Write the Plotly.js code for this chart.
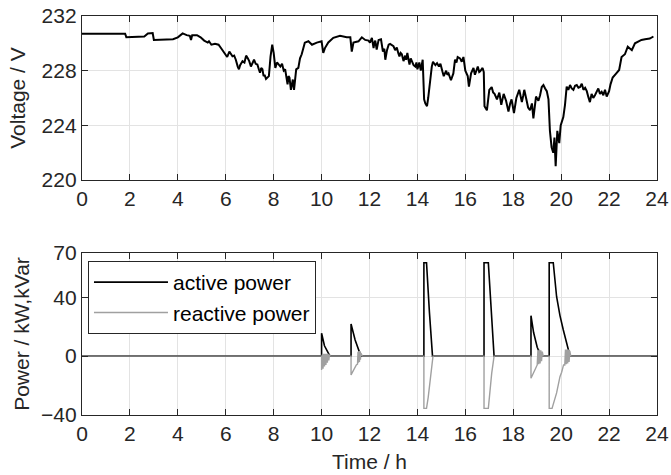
<!DOCTYPE html>
<html>
<head>
<meta charset="utf-8">
<script src="https://cdn.plot.ly/plotly-3.0.1.min.js"></script>
<style>html,body{margin:0;padding:0;background:#fff;}#chart{width:671px;height:475px;}</style>
</head>
<body>
<div id="chart"></div>
<script>
// Voltage trace (top panel)
var voltageHours = [0,1.0,1.8,1.85,2.2,2.6,2.75,2.95,3.0,3.5,3.8,4.0,4.2,4.37,4.5,4.55,4.6,4.8,4.95,5.1,5.25,5.3,5.4,5.55,5.7,5.8,5.95,6.06,6.15,6.22,6.28,6.35,6.42,6.5,6.55,6.6,6.7,6.78,6.85,6.92,6.98,7.05,7.12,7.18,7.25,7.32,7.38,7.43,7.48,7.53,7.58,7.62,7.68,7.73,7.8,7.87,7.94,8.0,8.07,8.14,8.2,8.28,8.35,8.42,8.48,8.53,8.58,8.62,8.66,8.72,8.76,8.8,8.85,8.9,8.94,9.03,9.1,9.17,9.3,9.45,9.6,9.8,10.0,10.07,10.14,10.28,10.49,10.77,11.05,11.2,11.26,11.33,11.54,11.68,11.82,11.96,12.02,12.1,12.17,12.2,12.24,12.3,12.34,12.38,12.48,12.56,12.62,12.66,12.73,12.8,12.86,13.0,13.07,13.14,13.2,13.25,13.3,13.35,13.42,13.49,13.53,13.58,13.63,13.67,13.72,13.77,13.84,13.91,13.96,14.0,14.04,14.08,14.14,14.18,14.22,14.28,14.33,14.4,14.45,14.6,14.65,14.75,14.82,14.9,14.96,15.05,15.1,15.2,15.25,15.3,15.4,15.5,15.57,15.63,15.68,15.78,15.85,15.92,16.0,16.1,16.15,16.24,16.34,16.4,16.46,16.52,16.58,16.62,16.72,16.77,16.8,16.9,17.0,17.1,17.16,17.22,17.32,17.42,17.5,17.6,17.7,17.8,17.87,17.93,18.03,18.13,18.25,18.36,18.42,18.46,18.56,18.62,18.7,18.78,18.84,18.95,19.05,19.12,19.19,19.26,19.33,19.4,19.47,19.53,19.6,19.67,19.72,19.77,19.84,19.92,19.98,20.09,20.16,20.23,20.3,20.37,20.44,20.51,20.58,20.65,20.72,20.79,20.86,20.93,21.0,21.07,21.13,21.2,21.27,21.34,21.41,21.48,21.55,21.62,21.69,21.76,21.83,21.9,22.0,22.06,22.15,22.3,22.42,22.52,22.66,22.78,22.87,22.95,23.08,23.2,23.35,23.5,23.7,23.85,24.0];
var voltageValues = [230.7,230.72,230.7,230.45,230.45,230.5,230.72,230.75,230.25,230.25,230.3,230.44,230.73,230.6,230.55,230.24,230.6,230.6,230.44,230.2,230.06,230.15,229.9,229.96,229.9,229.66,229.3,229.0,229.4,229.2,229.05,229.1,228.8,228.3,228.1,228.4,228.7,228.6,229.1,228.9,228.7,228.3,228.6,228.8,228.5,228.45,228.1,227.85,228.2,228.1,227.6,227.7,227.4,227.5,227.6,229.05,229.9,229.3,228.2,228.6,228.5,228.3,228.5,228.0,228.1,227.6,227.0,227.6,227.5,226.6,227.2,227.35,226.6,227.4,228.1,228.2,228.9,229.2,230.05,230.15,229.9,230.05,230.15,229.3,229.65,230.06,230.4,230.55,230.44,230.44,229.4,230.05,230.15,230.44,230.25,230.2,230.05,230.4,229.66,230.0,230.2,229.55,230.0,230.25,230.3,229.4,229.6,228.8,229.5,229.9,229.96,229.8,229.5,229.7,229.3,229.05,229.3,229.2,228.7,229.1,228.8,229.3,228.8,228.45,228.9,228.7,228.4,228.3,228.6,228.1,228.4,228.6,228.0,228.3,228.8,225.9,225.6,225.4,226.0,228.3,228.65,228.4,228.55,228.3,228.5,227.9,227.6,228.0,227.7,227.8,227.3,227.8,228.8,228.6,229.0,228.9,228.65,229.0,228.0,227.6,226.83,227.8,228.2,227.7,228.0,228.3,227.9,227.95,228.2,227.9,225.4,225.1,226.6,226.8,226.4,226.3,225.9,226.4,225.5,226.3,225.8,225.0,225.6,225.9,224.9,226.0,226.6,225.7,226.2,226.6,225.8,225.3,225.1,225.6,224.5,226.1,225.8,226.2,226.8,226.95,226.7,226.5,225.9,223.6,222.4,222.0,223.1,221.0,223.6,222.7,224.0,224.6,225.5,226.83,226.6,226.95,226.7,226.6,226.9,226.95,226.75,226.8,227.05,226.6,226.75,226.5,226.1,225.7,226.3,226.0,226.2,226.5,226.7,226.3,226.45,226.2,226.6,226.1,226.5,227.0,227.5,227.8,228.05,229.0,229.2,229.75,229.6,229.5,230.0,230.1,230.25,230.3,230.35,230.5];

// Power traces (bottom panel)
var activeHours = [0,10.0,10.0,10.12,10.35,11.23,11.23,11.4,11.64,14.27,14.27,14.38,14.5,14.63,16.78,16.78,16.96,17.07,17.2,18.74,18.74,18.85,19.0,19.16,19.5,19.5,19.67,19.81,19.95,20.09,20.2,20.3,20.37,24];
var activePower = [0,0,15.5,7,0,0,21.8,11,0,0,63.4,63.4,30,0,0,63.4,63.4,32.6,0,0,27.4,16,6,0,0,63.4,63.4,40.3,27.5,17.7,10,5,0,0];
var reactiveHours = [0,10.0,10.0,10.03,10.06,10.09,10.12,10.15,10.18,10.21,10.24,10.27,10.3,10.33,10.36,11.23,11.23,11.35,11.45,11.5,11.52,11.54,11.56,11.58,11.6,11.62,11.64,11.7,14.27,14.27,14.38,14.45,14.55,14.65,16.78,16.78,16.96,17.03,17.1,17.2,18.74,18.74,18.85,18.95,19.0,19.03,19.06,19.09,19.12,19.15,19.18,19.21,19.25,19.5,19.5,19.62,19.81,19.95,20.02,20.1,20.15,20.18,20.21,20.24,20.27,20.3,20.33,20.36,20.4,24];
var reactivePower = [0,0,-9.5,1,-8.5,1.5,-7,1.5,-6,1.5,-4.5,1.5,-3,1,0,0,-12.8,-9,-6,-5.5,3,-4.5,3.5,-4,3.5,-2.5,2,0,0,-35.5,-35.5,-28,-14,0,0,-35.5,-35.5,-23,-11.7,0,0,-15,-11,-7,-6,4,-5.5,4.5,-5,4,-3.5,3,0,0,-35.5,-35.5,-25,-14,-11,-6,-6,4.5,-5.5,4.5,-5,4.5,-4,3.5,0,0];

var axisColor = '#262626';
var gridColor = '#e3e3e3';
var tickFont = {family: 'Liberation Sans, Arial, sans-serif', size: 21, color: axisColor};

function xAxis(anchor, title) {
  var a = {
    domain: [0, 1], anchor: anchor, range: [0, 24], dtick: 2, tick0: 0,
    ticks: 'inside', ticklen: 6, tickcolor: axisColor, tickwidth: 1,
    showline: true, linecolor: axisColor, linewidth: 1.2, mirror: 'ticks',
    showgrid: true, gridcolor: gridColor, gridwidth: 1, zeroline: false,
    tickfont: tickFont, automargin: false
  };
  if (title) a.title = {text: title, font: tickFont, standoff: 9};
  return a;
}

var traces = [
  {x: voltageHours, y: voltageValues, xaxis: 'x2', yaxis: 'y2', type: 'scatter', mode: 'lines',
   line: {color: '#000000', width: 2}, showlegend: false, name: 'voltage'},
  {x: activeHours, y: activePower, xaxis: 'x', yaxis: 'y', type: 'scatter', mode: 'lines',
   line: {color: '#000000', width: 1.6}, name: 'active power'},
  {x: reactiveHours, y: reactivePower, xaxis: 'x', yaxis: 'y', type: 'scatter', mode: 'lines',
   line: {color: '#a0a0a0', width: 1.4}, name: 'reactive power'}
];

var layout = {
  width: 671, height: 475,
  margin: {l: 82, r: 14, t: 16, b: 60},
  paper_bgcolor: '#ffffff', plot_bgcolor: '#ffffff',
  font: tickFont,
  showlegend: true,
  legend: {x: 0.0104, y: 0.386, xanchor: 'left', yanchor: 'top',
           bgcolor: '#ffffff', bordercolor: axisColor, borderwidth: 1,
           font: {family: 'Liberation Sans, Arial, sans-serif', size: 21, color: '#000000'},
           itemwidth: 74, tracegroupgap: 0},
  xaxis: xAxis('y', 'Time / h'),
  xaxis2: xAxis('y2', null),
  yaxis: {
    domain: [0, 0.406], anchor: 'x', range: [-40, 70], tickvals: [-40, 0, 40, 70],
    ticks: 'inside', ticklen: 6, tickcolor: axisColor, tickwidth: 1,
    showline: true, linecolor: axisColor, linewidth: 1.2, mirror: 'ticks',
    showgrid: true, gridcolor: gridColor, zeroline: false, tickfont: tickFont,
    automargin: false, title: {text: 'Power / kW,kVar', font: tickFont, standoff: 5}
  },
  yaxis2: {
    domain: [0.589, 1], anchor: 'x2', range: [220, 232], dtick: 4, tick0: 220,
    ticks: 'inside', ticklen: 6, tickcolor: axisColor, tickwidth: 1,
    showline: true, linecolor: axisColor, linewidth: 1.2, mirror: 'ticks',
    showgrid: true, gridcolor: gridColor, zeroline: false, tickfont: tickFont,
    automargin: false, title: {text: 'Voltage / V', font: tickFont, standoff: 10}
  }
};

Plotly.newPlot('chart', traces, layout, {staticPlot: true, displayModeBar: false});
</script>
</body>
</html>
